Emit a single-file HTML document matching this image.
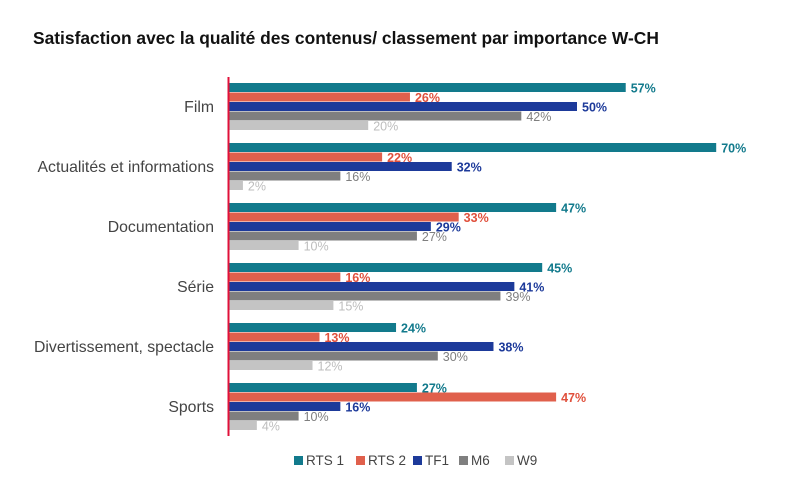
<!DOCTYPE html>
<html><head><meta charset="utf-8"><style>
body{margin:0;background:#fff;width:800px;height:498px;overflow:hidden;font-family:"Liberation Sans",sans-serif}
</style></head><body>
<svg width="800" height="498" xmlns="http://www.w3.org/2000/svg" font-family="Liberation Sans, sans-serif">
<text x="33" y="44" font-size="17.4" font-weight="bold" fill="#111">Satisfaction avec la qualité des contenus/ classement par importance W-CH</text>
<g id="bars"></g>
<line x1="228.5" y1="77" x2="228.5" y2="436" stroke="#e0103a" stroke-width="2"/>
<g font-size="11">
<rect x="294" y="456" width="9" height="9" fill="#127a8c"/><text x="306" y="465" font-size="13.5" fill="#444">RTS 1</text>
<rect x="356" y="456" width="9" height="9" fill="#e0604c"/><text x="368" y="465" font-size="13.5" fill="#444">RTS 2</text>
<rect x="413" y="456" width="9" height="9" fill="#1d3a9a"/><text x="425" y="465" font-size="13.5" fill="#444">TF1</text>
<rect x="459" y="456" width="9" height="9" fill="#7f7f7f"/><text x="471" y="465" font-size="13.5" fill="#444">M6</text>
<rect x="505" y="456" width="9" height="9" fill="#c4c4c4"/><text x="517" y="465" font-size="13.5" fill="#444">W9</text>
</g>
</svg>
<script>
var cats=[["Film",[57,26,50,42,20]],["Actualités et informations",[70,22,32,16,2]],["Documentation",[47,33,29,27,10]],["Série",[45,16,41,39,15]],["Divertissement, spectacle",[24,13,38,30,12]],["Sports",[27,47,16,10,4]]];
var col=["#127a8c","#e0604c","#1d3a9a","#7f7f7f","#c4c4c4"];
var tcol=["#127a8c","#e0503c","#1d3a9a","#7f7f7f","#bdbdbd"];
var s="";
cats.forEach(function(c,i){var y0=83+i*60;
s+='<text x="214" y="'+(y0+29)+'" text-anchor="end" font-size="15.8" fill="#444">'+c[0]+'</text>';
c[1].forEach(function(v,j){var y=y0+j*9.5,w=v*6.96;
s+='<rect x="229" y="'+y+'" width="'+w+'" height="9" fill="'+col[j]+'"/>';
s+='<text x="'+(229+w+5)+'" y="'+(y+9.5)+'" font-size="12.5" '+(j<3?'font-weight="bold"':'')+' fill="'+tcol[j]+'">'+v+'%</text>';});});
document.getElementById("bars").innerHTML=s;
</script>
</body></html>
